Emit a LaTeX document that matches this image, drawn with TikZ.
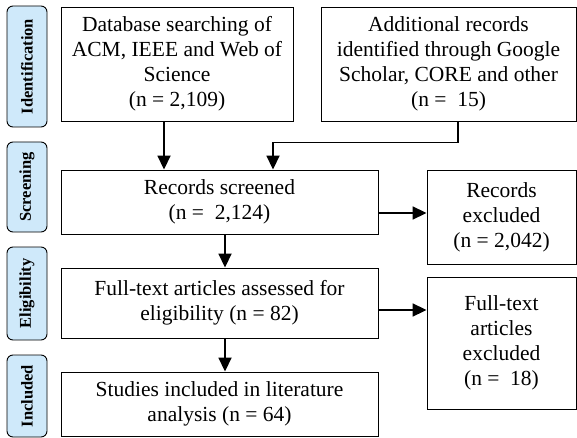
\documentclass[tikz,border=0pt]{standalone}
\usepackage{fontspec}
\setmainfont{Liberation Serif}
\usetikzlibrary{arrows.meta,calc}
\definecolor{sidefill}{HTML}{CFE9FA}
\begin{document}
\begin{tikzpicture}[x=1pt,y=-1pt,
  box/.style={draw=black,line width=0.9pt,fill=white,inner sep=0pt,align=center,
    font=\fontsize{21.5}{25}\selectfont},
  side/.style={draw=black,line width=0.9pt,fill=sidefill,rounded corners=6pt,inner sep=0pt,
    minimum height=40pt,rotate=90,font=\fontsize{16.5}{18}\selectfont\bfseries},
  arr/.style={line width=1.8pt,-{Triangle[length=14pt,width=13pt]}}]
\useasboundingbox (0,0) rectangle (577,438);
% side labels
\node[side,minimum width=121pt] (sid) at (27,66.5) {Identification};
\node[side,minimum width=90pt] (ssc) at (27,187) {Screening};
\node[side,minimum width=93pt] (sel) at (27,293.5) {Eligibility};
\node[side,minimum width=82pt] (sin) at (27,396) {Included};
% boxes
\node[box,minimum width=232pt,minimum height=114pt] (db) at (177,64)
  {Database searching of\\ACM, IEEE and Web of\\Science\\(n = 2,109)};
\node[box,minimum width=255pt,minimum height=114pt] (add) at (448.5,64)
  {Additional records\\identified through Google\\Scholar, CORE and other\\(n = \ 15)};
\node[box,minimum width=317pt,minimum height=64pt] (scr) at (219.5,202)
  {Records screened\\(n = \ 2,124)};
\node[box,minimum width=149pt,minimum height=94pt] (rex) at (501.5,217)
  {Records\\excluded\\(n = 2,042)};
\node[box,minimum width=317pt,minimum height=70pt] (ft) at (219.5,303)
  {Full-text articles assessed for\\eligibility (n = 82)};
\node[box,minimum width=149pt,minimum height=132pt] (fex) at (501.5,343)
  {Full-text\\articles\\excluded\\(n = \ 18)};
\node[box,minimum width=317pt,minimum height=64pt] (inc) at (219.5,404)
  {Studies included in literature\\analysis (n = 64)};
% connectors
\draw[arr] ([xshift=-13pt]db.south) -- ([xshift=-13pt]db.south |- scr.north);
\draw[arr] ([xshift=9.5pt]add.south) |- ([xshift=53.5pt,yshift=27pt]scr.north) -- ([xshift=53.5pt]scr.north);
\draw[arr] ([yshift=-11pt]scr.east) -- ([yshift=-11pt]scr.east -| rex.west);
\draw[arr] ([xshift=5.5pt]scr.south) -- ([xshift=5.5pt]scr.south |- ft.north);
\draw[arr] ([yshift=-7pt]ft.east) -- ([yshift=-7pt]ft.east -| fex.west);
\draw[arr] ([xshift=5.5pt]ft.south) -- ([xshift=5.5pt]ft.south |- inc.north);
\end{tikzpicture}
\end{document}
